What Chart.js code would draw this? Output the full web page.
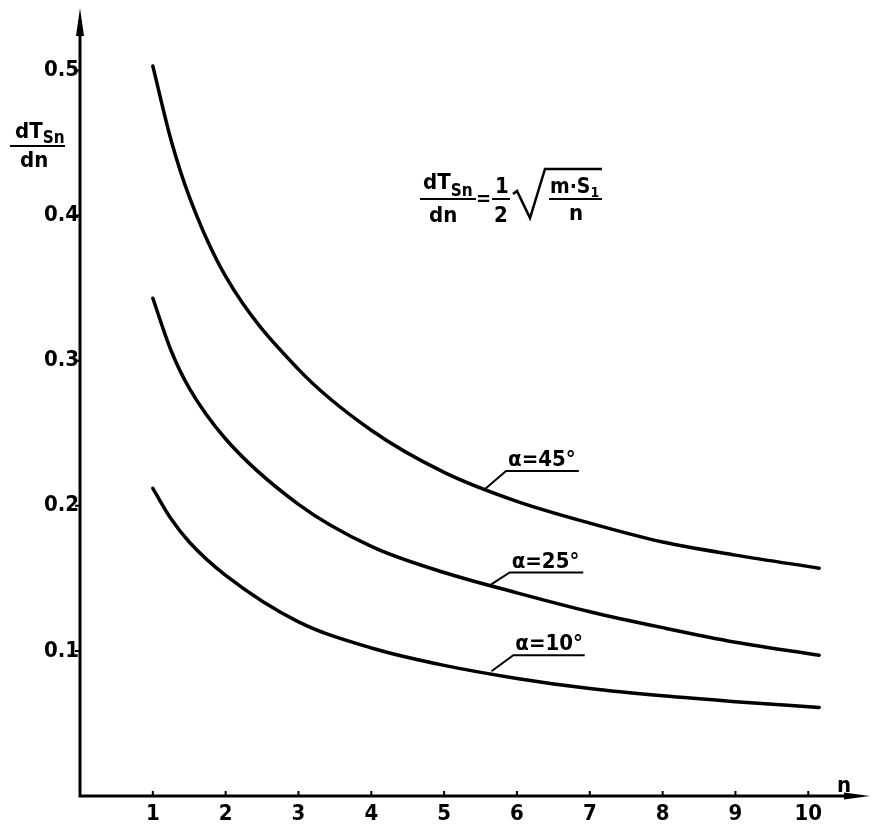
<!DOCTYPE html>
<html>
<head>
<meta charset="utf-8">
<script src="https://cdn.jsdelivr.net/npm/chart.js@4.4.1/dist/chart.umd.min.js"></script>
<style>
  html, body { margin: 0; padding: 0; background: #fff; }
  #wrap { width: 872px; height: 829px; }
</style>
</head>
<body>
<div id="wrap"><canvas id="chart" width="872" height="829"></canvas></div>
<script>
// n values the curves were read at
const nValues = [1, 1.25, 1.5, 2, 3, 4, 5, 6, 7, 8, 9, 10.15]

// dTsn/dn
const alpha45 = [0.503, 0.452, 0.413, 0.358, 0.294, 0.252, 0.223, 0.203, 0.188, 0.175, 0.166, 0.157]
const alpha25 = [0.343, 0.307, 0.281, 0.246, 0.201, 0.172, 0.154, 0.140, 0.127, 0.116, 0.106, 0.097]
const alpha10 = [0.212, 0.191, 0.175, 0.152, 0.120, 0.102, 0.090, 0.081, 0.074, 0.069, 0.065, 0.061]

const xTicks = [1, 2, 3, 4, 5, 6, 7, 8, 9, 10]
const yTicks = [0.1, 0.2, 0.3, 0.4, 0.5]

const curveLabels = ['α=45°', 'α=25°', 'α=10°']
// leader lines: point on curve -> elbow -> end of underline (data units)
const leaderFrom = [[5.55, 0.211], [5.62, 0.145], [5.65, 0.086]]
const leaderElbow = [[5.85, 0.224], [5.9, 0.154], [5.95, 0.097]]
const leaderEnd = [6.85, 6.91, 6.93]

const FONT = "'DejaVu Sans Condensed', 'DejaVu Sans', sans-serif"

const toPoints = values => values.map((v, i) => ({ x: nValues[i], y: v }))

const curve = values => ({
    data: toPoints(values),
    showLine: true,
    borderColor: '#000',
    borderWidth: 3.5,
    pointRadius: 0,
    cubicInterpolationMode: 'monotone',
    borderCapStyle: 'round'
})

const text = (ctx, str, x, y, size) => {
    ctx.font = `bold ${size}px ${FONT}`
    ctx.fillText(str, x, y)
    return x + ctx.measureText(str).width
}

const hline = (ctx, x1, x2, y, w) => {
    ctx.lineWidth = w
    ctx.beginPath()
    ctx.moveTo(x1, y)
    ctx.lineTo(x2, y)
    ctx.stroke()
}

const drawing = {
    id: 'drawing',
    afterDraw(chart) {
        const { ctx, chartArea, scales: { x, y } } = chart
        const left = x.getPixelForValue(0)
        const bottom = y.getPixelForValue(0)

        ctx.save()
        ctx.strokeStyle = '#000'
        ctx.fillStyle = '#000'
        ctx.lineCap = 'butt'

        // axes with arrows
        ctx.lineWidth = 3
        ctx.beginPath()
        ctx.moveTo(left, bottom + 1.5)
        ctx.lineTo(left, chartArea.top + 20)
        ctx.moveTo(left - 1.5, bottom)
        ctx.lineTo(chartArea.right - 18, bottom)
        ctx.stroke()

        ctx.beginPath()
        ctx.moveTo(left, chartArea.top)
        ctx.lineTo(left - 4, chartArea.top + 28)
        ctx.lineTo(left + 4, chartArea.top + 28)
        ctx.closePath()
        ctx.fill()

        ctx.beginPath()
        ctx.moveTo(chartArea.right + 2, bottom)
        ctx.lineTo(chartArea.right - 24, bottom - 3.5)
        ctx.lineTo(chartArea.right - 24, bottom + 3.5)
        ctx.closePath()
        ctx.fill()

        // tick marks
        ctx.lineWidth = 2
        ctx.beginPath()
        yTicks.forEach(v => {
            const py = y.getPixelForValue(v)
            ctx.moveTo(left - 5, py)
            ctx.lineTo(left, py)
        })
        xTicks.forEach(v => {
            const px = x.getPixelForValue(v)
            ctx.moveTo(px, bottom)
            ctx.lineTo(px, bottom - 5)
        })
        ctx.stroke()

        // curve labels with leader lines
        ctx.textBaseline = 'alphabetic'
        curveLabels.forEach((label, i) => {
            const x0 = x.getPixelForValue(leaderFrom[i][0])
            const y0 = y.getPixelForValue(leaderFrom[i][1])
            const x1 = x.getPixelForValue(leaderElbow[i][0])
            const y1 = y.getPixelForValue(leaderElbow[i][1])
            const x2 = x.getPixelForValue(leaderEnd[i])
            ctx.lineWidth = 2
            ctx.beginPath()
            ctx.moveTo(x0, y0)
            ctx.lineTo(x1, y1)
            ctx.lineTo(x2, y1)
            ctx.stroke()
            text(ctx, label, x1 + 2, y1 - 5, 22)
        })

        // axis names
        let cx = text(ctx, 'dT', 15, 138, 22)
        text(ctx, 'Sn', cx, 143, 17)
        hline(ctx, 10, 65, 146, 2)
        text(ctx, 'dn', 20, 167, 22)

        text(ctx, 'n', 837, 792, 22)

        // formula
        cx = text(ctx, 'dT', 423, 189, 22)
        text(ctx, 'Sn', cx, 196, 17)
        hline(ctx, 420, 476, 199, 2)
        text(ctx, 'dn', 429, 222, 22)
        text(ctx, '=', 476, 205, 20)
        text(ctx, '1', 495, 193, 22)
        hline(ctx, 492, 510, 199, 2)
        text(ctx, '2', 494, 222, 22)
        ctx.lineWidth = 2.5
        ctx.beginPath()
        ctx.moveTo(513, 194)
        ctx.lineTo(517, 191)
        ctx.lineTo(530, 218)
        ctx.lineTo(545, 169)
        ctx.lineTo(602, 169)
        ctx.stroke()
        cx = text(ctx, 'm·S', 550, 193, 21)
        text(ctx, '1', cx, 197, 14)
        hline(ctx, 549, 602, 199, 2)
        text(ctx, 'n', 569, 220, 22)

        ctx.restore()
    }
}

const tickFont = { family: FONT, size: 22, weight: 'bold' }

new Chart('chart', {
    type: 'scatter',
    data: {
        datasets: [curve(alpha45), curve(alpha25), curve(alpha10)]
    },
    options: {
        responsive: false,
        animation: false,
        layout: { padding: { top: 8, right: 4, left: 0, bottom: 0 } },
        plugins: { legend: { display: false }, tooltip: { enabled: false } },
        scales: {
            x: {
                type: 'linear',
                min: 0,
                max: 10.82,
                afterBuildTicks: scale => { scale.ticks = xTicks.map(v => ({ value: v })) },
                afterFit: scale => {
                    scale.height = 33
                    scale.paddingLeft = 0
                    scale.paddingRight = 0
                },
                grid: { display: false, drawTicks: false },
                border: { display: false },
                ticks: { color: '#000', font: tickFont, padding: 5, maxRotation: 0, autoSkip: false, callback: v => String(v) }
            },
            y: {
                min: 0,
                max: 0.543,
                afterBuildTicks: scale => { scale.ticks = yTicks.map(v => ({ value: v })) },
                afterFit: scale => {
                    scale.width = 80
                    scale.paddingTop = 0
                    scale.paddingBottom = 0
                },
                grid: { display: false, drawTicks: false },
                border: { display: false },
                ticks: { color: '#000', font: tickFont, padding: 1, callback: v => v.toFixed(1) }
            }
        }
    },
    plugins: [drawing]
})
</script>
</body>
</html>
